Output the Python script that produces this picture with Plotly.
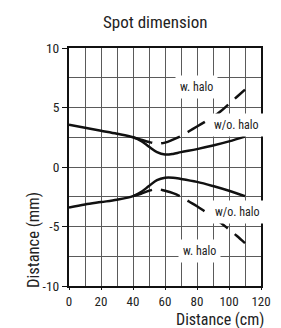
import plotly.graph_objects as go

# Data (cm -> mm)
solid_x = [0, 10, 20, 30, 40, 45, 50, 55, 60, 65, 70, 80, 90, 100, 110]
solid_upper = [3.55, 3.3, 3.05, 2.8, 2.5, 2.2, 1.7, 1.25, 1.05, 1.1, 1.25, 1.5, 1.8, 2.15, 2.55]
solid_lower = [-3.4, -3.15, -2.95, -2.75, -2.45, -2.1, -1.6, -1.1, -0.9, -0.9, -1.0, -1.25, -1.6, -2.0, -2.45]

dash_x = [40, 45, 50, 55, 60, 65, 70, 75, 80, 85, 90, 95, 100, 105, 110]
dash_upper = [2.5, 2.3, 2.1, 1.97, 2.05, 2.3, 2.6, 3.0, 3.4, 3.8, 4.2, 4.7, 5.3, 5.9, 6.5]
dash_lower = [-2.45, -2.25, -2.0, -1.85, -2.0, -2.2, -2.5, -2.9, -3.3, -3.75, -4.2, -4.7, -5.25, -5.8, -6.4]

x_ticks = [0, 20, 40, 60, 80, 100, 120]
y_ticks = [-10, -5, 0, 5, 10]

labels = [
    ("w. halo", 79.5, 6.7),
    ("w/o. halo", 104.8, 3.5),
    ("w/o. halo", 105.5, -3.75),
    ("w. halo", 81.5, -7.05),
]

FONT = "Roboto Condensed, Liberation Sans, sans-serif"
TXT = "#222222"

fig = go.Figure()
for xs, ys in [(solid_x, solid_upper), (solid_x, solid_lower)]:
    fig.add_trace(go.Scatter(x=xs, y=ys, mode="lines", line=dict(color="#111111", width=2.5, shape="spline"),
                             showlegend=False, hoverinfo="skip"))
for xs, ys in [(dash_x, dash_upper), (dash_x, dash_lower)]:
    fig.add_trace(go.Scatter(x=xs, y=ys, mode="lines",
                             line=dict(color="#111111", width=2.5, shape="spline", dash="20px,9px"),
                             showlegend=False, hoverinfo="skip"))

for text, lx, ly in labels:
    fig.add_annotation(x=lx, y=ly, xref="x", yref="y", text=text, showarrow=False,
                       bgcolor="white", borderpad=4, font=dict(family=FONT, size=12, color=TXT))

fig.add_annotation(x=0.45, y=1.111, xref="paper", yref="paper", text="Spot dimension", showarrow=False,
                   xanchor="center", yanchor="middle", font=dict(family=FONT, size=17, color=TXT))
fig.add_annotation(x=1.025, y=-0.139, xref="paper", yref="paper", text="Distance (cm)", showarrow=False,
                   xanchor="right", yanchor="middle", font=dict(family=FONT, size=16, color=TXT))
fig.add_annotation(x=-0.188, y=0.193, xref="paper", yref="paper", text="Distance (mm)", showarrow=False,
                   textangle=-90, xanchor="center", yanchor="middle", font=dict(family=FONT, size=16.5, color=TXT))

fig.update_xaxes(range=[0, 120], tickvals=x_ticks, ticktext=[str(v) for v in x_ticks],
                 showline=True, linecolor="#111111", linewidth=2, mirror=True,
                 ticks="outside", ticklen=2, tickcolor="#111111",
                 showgrid=True, gridcolor="#5a5a5a", gridwidth=1,
                 minor=dict(dtick=10, tick0=0, showgrid=True, gridcolor="#5a5a5a", gridwidth=1, ticks=""),
                 zeroline=False, tickfont=dict(family=FONT, size=13, color=TXT), fixedrange=True)
fig.update_yaxes(range=[-10, 10], tickvals=y_ticks, ticktext=[str(v) for v in y_ticks],
                 showline=True, linecolor="#111111", linewidth=2, mirror=True,
                 ticks="outside", ticklen=5, tickcolor="#111111",
                 showgrid=True, gridcolor="#5a5a5a", gridwidth=1,
                 minor=dict(dtick=2.5, tick0=0, showgrid=True, gridcolor="#5a5a5a", gridwidth=1, ticks=""),
                 zeroline=False, tickfont=dict(family=FONT, size=13.5, color=TXT), fixedrange=True)

fig.update_layout(width=281, height=328, margin=dict(l=69, r=10, t=48, b=42),
                  paper_bgcolor="white", plot_bgcolor="white")

fig.write_html("out.html", config={"displayModeBar": False},
               post_script="document.body.style.margin='0';")
